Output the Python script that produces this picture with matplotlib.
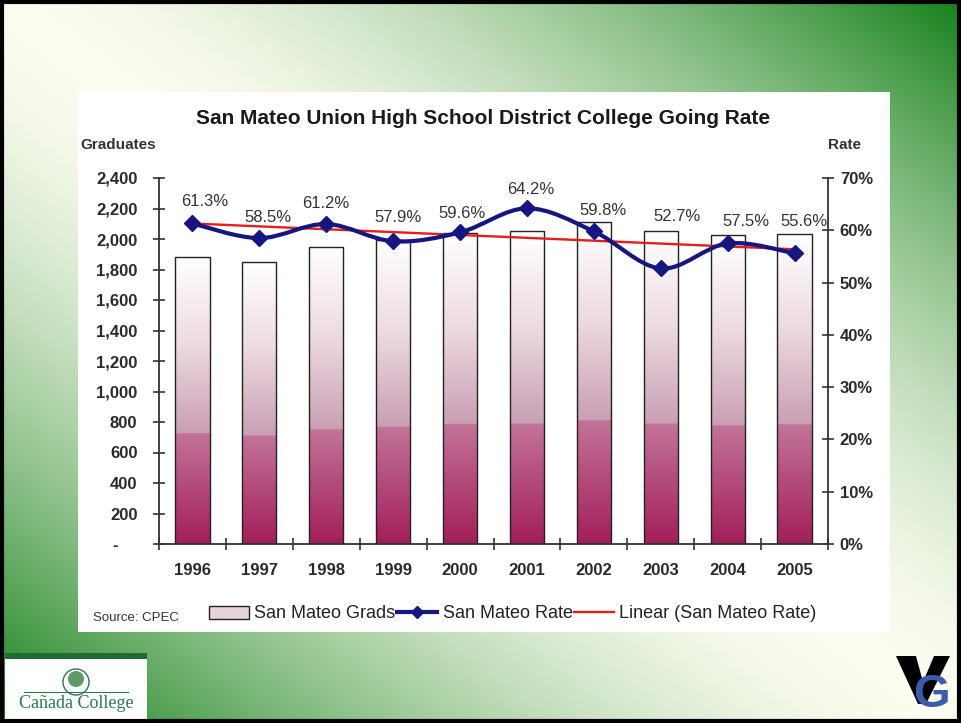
import matplotlib.pyplot as plt
import numpy as np
from matplotlib.colors import LinearSegmentedColormap, to_rgb
from matplotlib.patches import Rectangle, PathPatch, Circle, Polygon
from matplotlib.path import Path
from matplotlib.lines import Line2D
from matplotlib.ticker import FuncFormatter

# data
years = ['1996', '1997', '1998', '1999', '2000', '2001', '2002', '2003', '2004', '2005']
grads = [1884, 1849, 1948, 1995, 2041, 2052, 2111, 2052, 2026, 2033]
rate = [61.3, 58.5, 61.2, 57.9, 59.6, 64.2, 59.8, 52.7, 57.5, 55.6]
grad_ticks = list(range(0, 2401, 200))
rate_ticks = list(range(0, 71, 10))
labels = ['San Mateo Grads', 'San Mateo Rate', 'Linear (San Mateo Rate)']

# label offsets (pixels) from each marker, as placed in the original
label_dx = [12, 9, -1, 5, 2, 4, 9, 16, 18, 9]
label_dy = [22, 21, 21, 24, 19, 19, 21, 52, 22, 32]

W, H = 961, 723
NAVY = '#161680'
RED = '#e41e1e'
TXT = '#2a2a2a'

plt.rcParams['font.family'] = ['Liberation Sans', 'DejaVu Sans']
fig = plt.figure(figsize=(W / 100, H / 100), dpi=100)

# slide background in pixel coords
bg = fig.add_axes([0, 0, 1, 1])
bg.set_xlim(0, W)
bg.set_ylim(H, 0)
bg.axis('off')
u, v = np.meshgrid(np.linspace(0, 1, 480), np.linspace(0, 1, 360))
t = np.abs(u - v) ** 1.6
white = np.array(to_rgb('#fdfdf2'))
green = np.array(to_rgb('#15801a'))
bg.imshow(white + (green - white) * t[..., None], extent=[0, W, H, 0], aspect='auto', zorder=0)
bg.add_patch(Rectangle((78, 92), 812, 540, facecolor='white', edgecolor='none', zorder=1))
bg.add_patch(Rectangle((2, 2), W - 4, H - 4, facecolor='none', edgecolor='black', lw=3, zorder=5))

# Canada College logo
bg.add_patch(Rectangle((5, 653), 142, 67, facecolor='white', edgecolor='none', zorder=2))
bg.add_patch(Rectangle((5, 653), 142, 6, facecolor='#1f6a35', edgecolor='none', zorder=3))
bg.add_patch(Circle((76, 682), 13, facecolor='none', edgecolor='#2a7a4e', lw=1, zorder=3))
bg.add_patch(Circle((76, 679), 8, facecolor='#5f9a6a', edgecolor='none', zorder=3))
bg.plot([24, 128], [692, 692], color='#2a7a4e', lw=0.8, zorder=3)
bg.text(76, 704, 'Cañada College', family='Liberation Serif', fontsize=13,
        color='#2a7a4e', ha='center', va='center', zorder=4)
# VG logo
bg.add_patch(Polygon([(896, 656), (916, 656), (923, 682), (934, 656), (950, 656), (926, 704), (918, 704)],
                     closed=True, facecolor='black', edgecolor='none', zorder=3))
bg.text(931, 695, 'G', fontsize=34, fontweight='bold', color='#3b5ca8', ha='center', va='center', zorder=4)

# chart
ax = fig.add_axes([159 / W, 1 - 544 / H, (828 - 159) / W, (544 - 178) / H])
ax.patch.set_alpha(0)
x = np.arange(len(years)) + 0.5
bars = ax.bar(x, grads, width=0.51, facecolor='none', edgecolor='#222222', lw=1, zorder=3)
cmap = LinearSegmentedColormap.from_list('bar', [(0, '#a31f5a'), (0.38, '#c27398'), (0.385, '#c9a0b3'),
                                                 (0.7, '#eddbe2'), (1, '#ffffff')])
col = np.linspace(1, 0, 200)[:, None]
for r in bars:
    x0, w, h = r.get_x(), r.get_width(), r.get_height()
    ax.imshow(col, cmap=cmap, vmin=0, vmax=1, extent=[x0, x0 + w, 0, h], aspect='auto', zorder=2)
ax.set_xlim(0, 10)
ax.set_ylim(0, 2400)

ax.set_xticks(np.arange(11))
ax.set_xticklabels([])
ax.set_xticks(x, minor=True)
ax.set_xticklabels(years, minor=True, fontsize=12, fontweight='bold', color=TXT)
ax.tick_params(axis='x', which='major', direction='inout', length=9, width=1.2, color='#333')
ax.tick_params(axis='x', which='minor', length=0, pad=14)
ax.set_yticks(grad_ticks)
ax.yaxis.set_major_formatter(FuncFormatter(lambda val, p: '-    ' if val == 0 else f'{val:,.0f}'))
ax.tick_params(axis='y', direction='inout', length=9, width=1.2, color='#333', pad=11,
               labelsize=12, labelcolor=TXT)
for lab in ax.get_yticklabels():
    lab.set_fontweight('bold')
for s in ['top', 'right']:
    ax.spines[s].set_visible(False)
for s in ['left', 'bottom']:
    ax.spines[s].set_color('#333')
    ax.spines[s].set_linewidth(1.3)

ax2 = ax.twinx()
ax2.set_ylim(0, 70)
ax2.set_yticks(rate_ticks)
ax2.set_yticklabels([f'{r}%' for r in rate_ticks], fontsize=12, fontweight='bold', color=TXT)
ax2.tick_params(axis='y', direction='inout', length=9, width=1.2, color='#333', pad=4)
for s in ['top', 'left', 'bottom']:
    ax2.spines[s].set_visible(False)
ax2.spines['right'].set_color('#333')
ax2.spines['right'].set_linewidth(1.3)

# linear trend
coef = np.polyfit(x, rate, 1)
ax2.plot([x[0], x[-1]], np.polyval(coef, [x[0], x[-1]]), color=RED, lw=1.7, zorder=3)

# smoothed rate line (bezier through the points)
pts = np.column_stack([x, rate])
verts = [pts[0]]
codes = [Path.MOVETO]
n = len(pts)
for i in range(n - 1):
    p0 = pts[max(i - 1, 0)]
    p1, p2 = pts[i], pts[i + 1]
    p3 = pts[min(i + 2, n - 1)]
    verts += [p1 + (p2 - p0) / 6, p2 - (p3 - p1) / 6, p2]
    codes += [Path.CURVE4] * 3
ax2.add_patch(PathPatch(Path(verts, codes), fill=False, edgecolor=NAVY, lw=3, zorder=4))
ax2.plot(x, rate, linestyle='none', marker='D', ms=8.5, color=NAVY, zorder=5)
for xi, r, dx, dy in zip(x, rate, label_dx, label_dy):
    ax2.annotate(f'{r}%', (xi, r), xytext=(dx * 0.72, dy * 0.72), textcoords='offset points',
                 ha='center', va='center', fontsize=12, color='#333', zorder=6)

fig.text(483 / W, 1 - 118 / H, 'San Mateo Union High School District College Going Rate',
         ha='center', va='center', fontsize=15, fontweight='bold', color='#1a1a1a')
fig.text(80 / W, 1 - 145 / H, 'Graduates', ha='left', va='center', fontsize=11,
         fontweight='bold', color='#333')
fig.text(828 / W, 1 - 145 / H, 'Rate', ha='left', va='center', fontsize=11,
         fontweight='bold', color='#333')
fig.text(93 / W, 1 - 618 / H, 'Source: CPEC', ha='left', va='center', fontsize=9.5, color='#333')

handles = [Rectangle((0, 0), 1, 1, facecolor='#e8d3dc', edgecolor='#222', lw=1),
           Line2D([], [], color=NAVY, lw=3, marker='D', ms=6.5),
           Line2D([], [], color=RED, lw=1.7)]
fig.legend(handles, labels, loc='center', bbox_to_anchor=(513 / W, 1 - 614 / H), ncol=3,
           frameon=False, fontsize=13, handlelength=2.2, handletextpad=0.3,
           columnspacing=0.1, labelcolor='#222')

fig.savefig('out.png', dpi=100)
